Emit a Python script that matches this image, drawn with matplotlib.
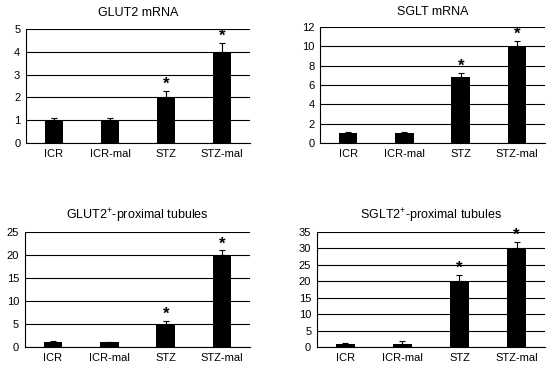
import numpy as np
import matplotlib
matplotlib.use('Agg')
import matplotlib.pyplot as plt

plt.rcParams['font.family'] = ['Liberation Sans', 'DejaVu Sans']
plt.rcParams['mathtext.fontset'] = 'custom'
plt.rcParams['mathtext.rm'] = 'Liberation Sans'

groups = ['ICR', 'ICR-mal', 'STZ', 'STZ-mal']

glut2_mrna = [1.0, 1.0, 2.0, 4.0]
glut2_mrna_err = [0.1, 0.1, 0.3, 0.4]

sglt_mrna = [1.0, 1.0, 6.8, 10.0]
sglt_mrna_err = [0.1, 0.15, 0.5, 0.6]

glut2_tub = [1.0, 1.0, 5.0, 20.0]
glut2_tub_err = [0.2, 0.1, 0.7, 1.0]

sglt2_tub = [1.0, 1.0, 20.0, 30.0]
sglt2_tub_err = [0.2, 0.7, 2.0, 2.0]

signif = [False, False, True, True]

panels = [
    ('GLUT2 mRNA', glut2_mrna, glut2_mrna_err, 5, 1, [0.047, 0.609, 0.408, 0.312]),
    ('SGLT mRNA', sglt_mrna, sglt_mrna_err, 12, 2, [0.582, 0.609, 0.409, 0.317]),
    ('GLUT2$^{+}$-proximal tubules', glut2_tub, glut2_tub_err, 25, 5, [0.045, 0.052, 0.410, 0.314]),
    ('SGLT2$^{+}$-proximal tubules', sglt2_tub, sglt2_tub_err, 35, 5, [0.576, 0.052, 0.415, 0.314]),
]

fig = plt.figure(figsize=(5.5, 3.66), dpi=100)

for title, vals, errs, ymax, step, pos in panels:
    ax = fig.add_axes(pos)
    x = np.arange(len(groups))
    ax.bar(x, vals, width=0.33, color='black', zorder=3)
    ax.errorbar(x, vals, yerr=[np.zeros(len(errs)), errs], fmt='none',
                ecolor='black', elinewidth=0.8, capsize=2, capthick=0.8, zorder=4)
    for xi, v, e, s in zip(x, vals, errs, signif):
        if s:
            ax.text(xi, v + e - ymax * 0.01, '*', ha='center', va='bottom',
                    fontsize=12, fontweight='bold')
    ax.set_ylim(0, ymax)
    ax.set_xlim(-0.5, 3.5)
    ax.set_yticks(np.arange(0, ymax + 0.1, step))
    ax.set_xticks(x)
    ax.set_xticklabels(groups)
    ax.yaxis.grid(True, color='black', linewidth=0.8, zorder=0)
    ax.set_axisbelow(True)
    ax.spines['right'].set_visible(False)
    ax.spines['top'].set_visible(False)
    ax.spines['left'].set_linewidth(0.8)
    ax.spines['bottom'].set_linewidth(0.8)
    ax.tick_params(axis='both', length=0, pad=4, labelsize=8)
    ax.set_title(title, fontsize=9, pad=9)

fig.savefig('out.png', dpi=100)
